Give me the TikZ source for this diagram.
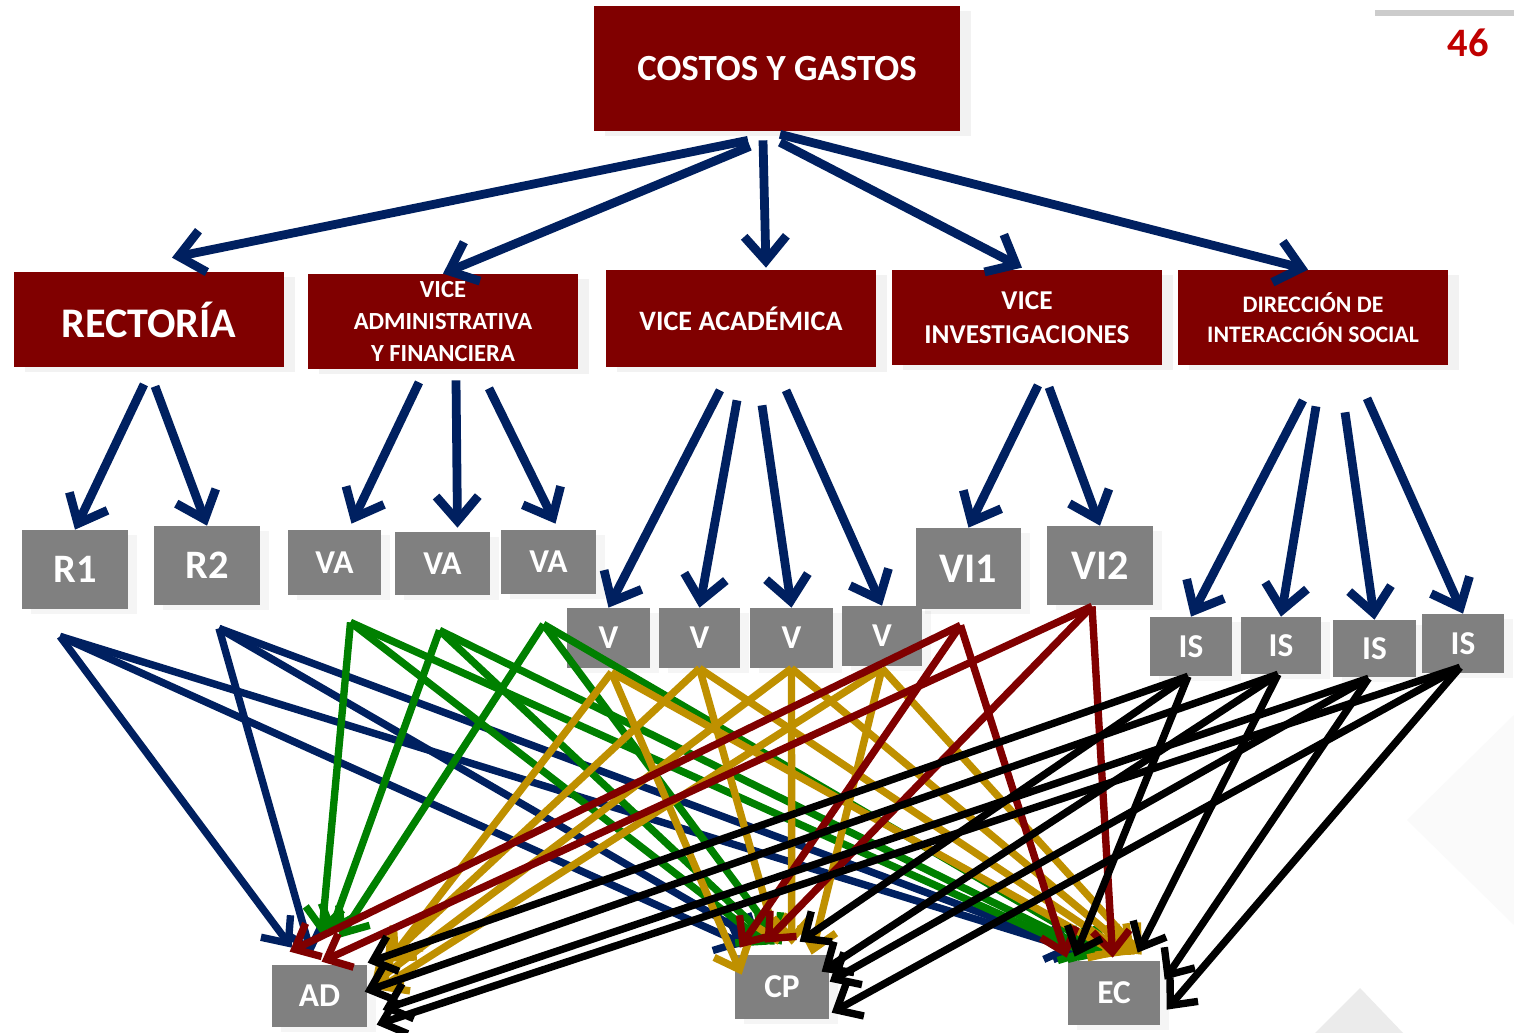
\documentclass[tikz,border=0pt]{standalone}
\usepackage{fontspec}
\setmainfont{Carlito}
\usepackage{tikz}
\usetikzlibrary{arrows.meta,calc,shadows}

\definecolor{boxred}{RGB}{128,0,0}
\definecolor{boxgray}{RGB}{128,128,128}
\definecolor{linknavy}{RGB}{0,32,96}
\definecolor{linkgreen}{RGB}{0,128,0}
\definecolor{linkgold}{RGB}{191,144,0}
\definecolor{linkred}{RGB}{128,0,0}
\definecolor{pagered}{RGB}{192,0,0}

\begin{document}
\begin{tikzpicture}[
    x=0.02cm, y=-0.02cm,
    unit/.style={rectangle, fill=boxred, text=white, align=center, inner sep=0pt, minimum width=5.4cm, minimum height=1.9cm, drop shadow={shadow xshift=6pt, shadow yshift=-3pt, opacity=0.1}},
    leaf/.style={rectangle, fill=boxgray, text=white, inner sep=0pt, font=\bfseries\fontsize{19}{21}\selectfont, drop shadow={shadow xshift=5pt, shadow yshift=-3pt, opacity=0.08}},
    link/.style={line width=5pt, color=linknavy, -{Straight Barb[length=14pt,width=24pt]}},
    flow/.style={line width=4.2pt, -{Straight Barb[length=12pt,width=21pt]}},
]

% background
\fill[white] (0,0) rectangle (1514,1033);
\fill[black!2] (1407,820) -- (1514,715) -- (1514,925) -- cycle;
\fill[black!8] (1315,1033) -- (1360,988) -- (1403,1033) -- cycle;
\useasboundingbox (0,0) rectangle (1514,1033);

% page number
\draw[line width=3pt, black!20] (1375,13) -- (1514,13);
\node[text=pagered, font=\bfseries\fontsize{23}{26}\selectfont] (page) at (1468,43) {46};

% top level
\node[unit, minimum width=7.32cm, minimum height=2.5cm, font=\bfseries\fontsize{21}{24}\selectfont] (cg) at (777,68.5) {COSTOS Y GASTOS};

% second level
\node[unit, font=\bfseries\fontsize{24}{28}\selectfont] (rect) at (149,319.5) {RECTORÍA};
\node[unit, font=\bfseries\fontsize{14}{18}\selectfont] (vaf) at (443,321.5) {VICE\\ADMINISTRATIVA\\Y FINANCIERA};
\node[unit, minimum height=1.94cm, font=\bfseries\fontsize{16}{19}\selectfont] (vac) at (741,318.5) {VICE ACADÉMICA};
\node[unit, font=\bfseries\fontsize{15.5}{19.5}\selectfont] (vin) at (1027,317.5) {VICE\\INVESTIGACIONES};
\node[unit, font=\bfseries\fontsize{13.5}{17}\selectfont] (dis) at (1313,317.5) {DIRECCIÓN DE\\INTERACCIÓN SOCIAL};

% third level
\node[leaf, minimum width=2.12cm, minimum height=1.58cm, font=\bfseries\fontsize{23}{25}\selectfont] (r1) at (75,569.5) {R1};
\node[leaf, minimum width=2.12cm, minimum height=1.58cm, font=\bfseries\fontsize{23}{25}\selectfont] (r2) at (207,565.5) {R2};
\node[leaf, minimum width=1.86cm, minimum height=1.3cm] (va1) at (334.5,562.5) {VA};
\node[leaf, minimum width=1.9cm, minimum height=1.26cm] (va2) at (442.5,563.5) {VA};
\node[leaf, minimum width=1.9cm, minimum height=1.28cm] (va3) at (548.5,562) {VA};
\node[leaf, minimum width=1.66cm, minimum height=1.2cm] (v1) at (608.5,638) {V};
\node[leaf, minimum width=1.62cm, minimum height=1.2cm] (v2) at (699.5,638) {V};
\node[leaf, minimum width=1.66cm, minimum height=1.2cm] (v3) at (791.5,638) {V};
\node[leaf, minimum width=1.6cm, minimum height=1.2cm] (v4) at (882,636) {V};
\node[leaf, minimum width=2.1cm, minimum height=1.62cm, font=\bfseries\fontsize{24}{26}\selectfont] (vi1) at (968.5,568.5) {VI1};
\node[leaf, minimum width=2.12cm, minimum height=1.58cm, font=\bfseries\fontsize{24}{26}\selectfont] (vi2) at (1100,565.5) {VI2};
\node[leaf, minimum width=1.64cm, minimum height=1.18cm] (is1) at (1191,646.5) {IS};
\node[leaf, minimum width=1.6cm, minimum height=1.14cm] (is2) at (1281,645.5) {IS};
\node[leaf, minimum width=1.66cm, minimum height=1.14cm] (is3) at (1374.5,648.5) {IS};
\node[leaf, minimum width=1.64cm, minimum height=1.18cm] (is4) at (1463,643.5) {IS};

% bottom level
\node[leaf, minimum width=1.9cm, minimum height=1.24cm] (ad) at (319.5,996) {AD};
\node[leaf, minimum width=1.88cm, minimum height=1.28cm] (cp) at (782,987) {CP};
\node[leaf, minimum width=1.84cm, minimum height=1.28cm] (ec) at (1114,993) {EC};

% arrows from the top
\draw[link] ($(cg.south)+(-29,9)$) -- ($(rect.north)+(23,-14)$);
\draw[link] ($(cg.south)+(-27,15)$) -- (vaf.north);
\draw[link] ($(cg.south)+(-14,9)$) -- ($(vac.north)+(25,-2)$);
\draw[link] ($(cg.south)+(3,11)$) -- ($(vin.north)+(-5,-2)$);
\draw[link] ($(cg.south)+(3,3)$) -- ($(dis.north)+(-5,0)$);

% arrows to the units
\draw[link] ($(rect.south)+(-5,17)$) -- (r1.north);
\draw[link] ($(rect.south)+(6,19)$) -- (r2.north);
\draw[link] ($(vaf.south)+(-24,13)$) -- ($(va1.north)+(17,-6)$);
\draw[link] ($(vaf.south)+(13,11)$) -- ($(va2.north)+(15,-4)$);
\draw[link] ($(vaf.south)+(46,19)$) -- ($(va3.north)+(7,-6)$);
\draw[link] ($(vac.south)+(-21,23)$) -- (v1.north);
\draw[link] ($(vac.south)+(-4,33)$) -- (v2.north);
\draw[link] ($(vac.south)+(21,38)$) -- (v3.north);
\draw[link] ($(vac.south)+(45,23)$) -- (v4.north);
\draw[link] ($(vin.south)+(11,20)$) -- (vi1.north);
\draw[link] ($(vin.south)+(22,22)$) -- (vi2.north);
\draw[link] ($(dis.south)+(-10,35)$) -- (is1.north);
\draw[link] ($(dis.south)+(3,41)$) -- (is2.north);
\draw[link] ($(dis.south)+(32,47)$) -- (is3.north);
\draw[link] ($(dis.south)+(54,33)$) -- (is4.north);

% arrows to AD, CP and EC
\foreach \s/\sx/\sy/\col/\a/\b/\c in {
    r1/-15/27/linknavy/{20,-17}/{10,-10}/{7,-11},
    r2/12/23/linknavy/{40,-10}/{27,-12}/{17,-9},
    va1/16/27/linkgreen/{50,-30}/{33,-10}/{22,-6},
    va2/-3/35/linkgreen/{58,-30}/{40,-10}/{32,-6},
    va3/-5/30/linkgreen/{68,-27}/{47,-10}/{42,-6},
    v1/3/4/linkgold/{120,-7}/{7,20}/{52,-6},
    v2/0/0/linkgold/{113,-3}/{43,-10}/{60,-6},
    v3/0/0/linkgold/{100,20}/{57,-10}/{67,-6},
    v4/0/2/linkgold/{106,25}/{77,0}/{74,-6},
    vi1/-8/16/linkred/{18,-13}/{5,-7}/{-1,-3},
    vi2/-8/1/linkred/{50,-3}/{30,-12}/{45,-3},
    is1/-3/0/black/{96,-2}/{65,-13}/{7,-4},
    is2/-3/0/black/{93,27}/{87,17}/{70,-8},
    is3/-6/1/black/{111,45}/{95,27}/{97,19},
    is4/-3/-6/black/{105,60}/{97,58}/{99,49}}
{
    \draw[flow, color=\col] ($(\s.south)+(\sx,\sy)$) -- ($(ad.north west)+(\a)$);
    \draw[flow, color=\col] ($(\s.south)+(\sx,\sy)$) -- ($(cp.north west)+(\b)$);
    \draw[flow, color=\col] ($(\s.south)+(\sx,\sy)$) -- ($(ec.north west)+(\c)$);
}

\end{tikzpicture}
\end{document}
